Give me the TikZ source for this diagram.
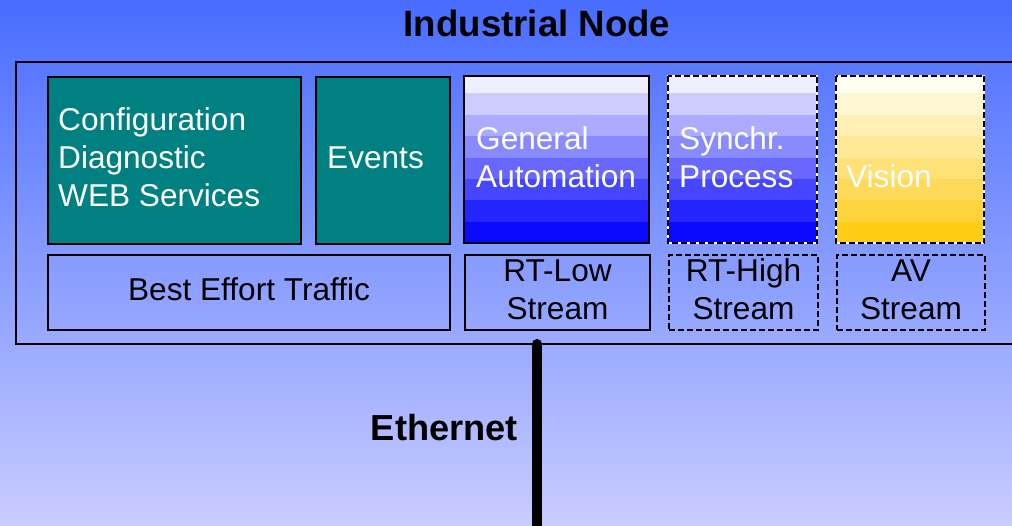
\documentclass[tikz,border=0pt]{standalone}
\usepackage{fontspec}
\setmainfont{Liberation Sans}
\definecolor{bgtop}{RGB}{72,108,255}
\definecolor{bgbot}{RGB}{200,204,255}
\definecolor{teal}{RGB}{0,128,128}
\definecolor{bA}{RGB}{238,238,252}
\definecolor{bB}{RGB}{205,205,253}
\definecolor{bC}{RGB}{171,171,255}
\definecolor{bD}{RGB}{138,138,255}
\definecolor{bE}{RGB}{104,104,255}
\definecolor{bF}{RGB}{70,70,255}
\definecolor{bG}{RGB}{36,36,255}
\definecolor{bH}{RGB}{10,10,255}
\definecolor{yA}{RGB}{255,253,240}
\definecolor{yB}{RGB}{255,246,210}
\definecolor{yC}{RGB}{255,239,180}
\definecolor{yD}{RGB}{255,232,150}
\definecolor{yE}{RGB}{255,225,120}
\definecolor{yF}{RGB}{255,218,90}
\definecolor{yG}{RGB}{255,211,60}
\definecolor{yH}{RGB}{255,204,22}
\tikzset{
  boxframe/.style={draw=black, line width=2pt, rectangle, inner sep=0pt, anchor=north west},
  solidbox/.style={boxframe, fill=teal},
  dashbox/.style={draw=black, line width=2pt, dash pattern=on 6pt off 3pt, rectangle, inner sep=0pt, anchor=north west},
  whitetxt/.style={text=white, font=\fontsize{31.6}{38}\selectfont, inner sep=0pt},
  blacktxt/.style={text=black, font=\fontsize{31.6}{38}\selectfont, inner sep=0pt},
  headtxt/.style={text=black, font=\fontsize{36.6}{42}\selectfont\bfseries, inner sep=0pt},
  ethtxt/.style={text=black, font=\fontsize{36.2}{42}\selectfont\bfseries, inner sep=0pt},
}
% horizontal colour bands inside a box: #1 = box name, #2 = list of colours top to bottom
\newcommand{\bandfill}[2]{%
  \foreach \c [count=\i from 0] in {#2} {
    \pgfmathsetmacro{\ya}{ifthenelse(\i==0,0,17.5+(\i-1)*21.36)}
    \pgfmathsetmacro{\yb}{17.5+\i*21.36}
    \fill[\c] ($(#1.north west)+(0,\ya)$) rectangle ($(#1.north east)+(0,\yb)$);
  }}
\usetikzlibrary{calc}
\begin{document}
\begin{tikzpicture}[x=1pt, y=-1pt]
  \useasboundingbox (0,0) rectangle (1012,526);
  \shade[top color=bgtop, bottom color=bgbot] (0,0) rectangle (1012,526);

  % title and node frame
  \node[headtxt, anchor=base] (title) at (537,37) {Industrial Node};
  \node[draw=black, line width=2pt, rectangle, inner sep=0pt, anchor=north west,
        minimum width=1010pt, minimum height=282pt] (frame) at (15,61) {};

  % upper row of services
  \node[solidbox, minimum width=253pt, minimum height=167pt] (cfg) at (47,76) {};
  \node[solidbox, minimum width=134pt, minimum height=167pt] (ev) at (315,76) {};
  \node[inner sep=0pt, anchor=north west, minimum width=185pt, minimum height=167pt] (ga) at (464,76) {};
  \node[inner sep=0pt, anchor=north west, minimum width=149pt, minimum height=167pt] (sp) at (668,76) {};
  \node[inner sep=0pt, anchor=north west, minimum width=148pt, minimum height=167pt] (vis) at (836,76) {};
  \bandfill{ga}{bA,bB,bC,bD,bE,bF,bG,bH}
  \bandfill{sp}{bA,bB,bC,bD,bE,bF,bG,bH}
  \bandfill{vis}{yA,yB,yC,yD,yE,yF,yG,yH}
  \draw[line width=2pt] (ga.north west) rectangle (ga.south east);
  \draw[line width=2pt, white] (sp.north west) rectangle (sp.south east);
  \draw[line width=2pt, dash pattern=on 6pt off 3pt] (sp.north west) rectangle (sp.south east);
  \draw[line width=2pt, white] (vis.north west) rectangle (vis.south east);
  \draw[line width=2pt, dash pattern=on 6pt off 3pt] (vis.north west) rectangle (vis.south east);

  % lower row of traffic classes
  \node[boxframe, minimum width=402pt, minimum height=75pt] (bet) at (47,254) {};
  \node[boxframe, minimum width=185pt, minimum height=75pt] (rtl) at (464,254) {};
  \node[dashbox, minimum width=149pt, minimum height=75pt] (rth) at (668,254) {};
  \node[dashbox, minimum width=148pt, minimum height=75pt] (av) at (836,254) {};

  % labels of the upper row
  \node[whitetxt, anchor=base west] (cfg1) at (58,131) {Configuration};
  \node[whitetxt, anchor=base west] (cfg2) at (58,169) {Diagnostic};
  \node[whitetxt, anchor=base west] (cfg3) at (58,207) {WEB Services};
  \node[whitetxt, anchor=base west] (evt) at (327,169) {Events};
  \node[whitetxt, anchor=base west] (ga1) at (476,150) {General};
  \node[whitetxt, anchor=base west] (ga2) at (476,188) {Automation};
  \node[whitetxt, anchor=base west] (sp1) at (679,150) {Synchr.};
  \node[whitetxt, anchor=base west] (sp2) at (679,188) {Process};
  \node[whitetxt, anchor=base west] (vist) at (846,188) {Vision};

  % labels of the lower row
  \node[blacktxt, anchor=base] (bett) at (bet.center |- 0,301) {Best Effort Traffic};
  \node[blacktxt, anchor=base] (rtl1) at (rtl.center |- 0,282) {RT-Low};
  \node[blacktxt, anchor=base] (rtl2) at (rtl.center |- 0,320) {Stream};
  \node[blacktxt, anchor=base] (rth1) at (rth.center |- 0,282) {RT-High};
  \node[blacktxt, anchor=base] (rth2) at (rth.center |- 0,320) {Stream};
  \node[blacktxt, anchor=base] (av1) at (av.center |- 0,282) {AV};
  \node[blacktxt, anchor=base] (av2) at (av.center |- 0,320) {Stream};

  % network line
  \coordinate (ethend) at (537,530);
  \draw[line width=10pt, line cap=round] (frame.south -| ethend) ++(0,-1) -- (ethend);
  \node[ethtxt, anchor=base east] (eth) at (518,440) {Ethernet};
\end{tikzpicture}
\end{document}
